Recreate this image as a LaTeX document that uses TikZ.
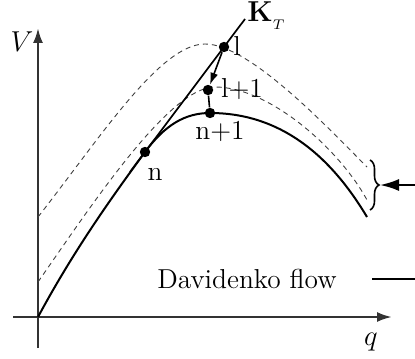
\documentclass[tikz,border=0pt]{standalone}
\usetikzlibrary{arrows.meta,decorations.pathreplacing}
\begin{document}
\begin{tikzpicture}[x=0.5pt,y=-0.5pt,
  axis/.style={line width=1.2pt,draw=black!80,-{Latex[length=7.5pt,width=5pt]}},
  maincurve/.style={line width=1pt},
  dashcurve/.style={line width=0.45pt,draw=black!75,dash pattern=on 2.5pt off 2pt},
  dot/.style={circle,fill=black,inner sep=0pt,minimum size=5.2pt},
  lbl/.style={font=\fontsize{13.7}{16}\selectfont,inner sep=0pt}]
\useasboundingbox (0,0) rectangle (415,358);
% axes
\coordinate (O) at (38,317);
\coordinate (xl) at (13,317);
\coordinate (xr) at (392,317);
\coordinate (yb) at (38,348);
\coordinate (yt) at (38,28);
\draw[axis] (xl) -- (xr);
\draw[axis] (yb) -- (yt);
\node[lbl] (V) at (22,42) {$V$};
\node[lbl] (q) at (371,342) {$q$};
% points
\coordinate (cn) at (145,152);
\coordinate (cn1) at (210,113);
\coordinate (cl) at (224,47);
\coordinate (cl1) at (208,90);
% dashed curves
\coordinate (u0) at (38,217);
\coordinate (up) at (205,44);
\coordinate (ue) at (367,167);
\draw[dashcurve] (u0) .. controls (100,138) and (160,44) .. (up)
  .. controls (250,44) and (330,130) .. (ue);
\coordinate (w0) at (38,282);
\coordinate (wp) at (215,87);
\coordinate (we) at (367,200);
\draw[dashcurve] (w0) .. controls (95,200) and (170,87) .. (wp)
  .. controls (270,87) and (340,150) .. (we);
% solid curve
\coordinate (se) at (367,217);
\draw[maincurve] (O) .. controls (73,252) and (109,201) .. (cn)
  .. controls (165,125) and (185,113) .. (cn1)
  .. controls (280,113) and (330,155) .. (se);
% tangent K_T
\coordinate (k0) at (130,172);
\coordinate (k1) at (245,19);
\draw[line width=0.85pt] (k0) -- (k1);
\node[lbl,anchor=base west] (KT) at (247,22) {$\mathbf{K}_{_T}$};
% dots
\node[dot] (n) at (cn) {};
\node[dot] (n1) at (cn1) {};
\node[dot] (l) at (cl) {};
\node[dot] (l1) at (cl1) {};
\draw[line width=0.8pt,-{Latex[length=6pt,width=4pt]}] (l) -- (l1);
\draw[line width=0.8pt] (l1) -- (n1);
% labels
\node[lbl] (tn) at (155,174) {n};
\node[lbl] (tn1) at (220,131) {n+1};
\node[lbl] (tl) at (237,46) {l};
\node[lbl] (tl1) at (242,89) {l+1};
% brace and arrow
\coordinate (bt) at (370,160);
\coordinate (bb) at (370,210);
\draw[decorate,decoration={brace,amplitude=4.5pt},line width=0.8pt] (bt) -- (bb);
\coordinate (ar) at (415,185);
\coordinate (at) at (380,185);
\draw[line width=1pt,-{Latex[length=9.5pt,width=6pt]}] (ar) -- (at);
% Davidenko flow legend
\node[lbl] (df) at (247,279) {Davidenko flow};
\coordinate (d0) at (372,279);
\coordinate (d1) at (415,279);
\draw[line width=0.8pt] (d0) -- (d1);
\end{tikzpicture}
\end{document}
